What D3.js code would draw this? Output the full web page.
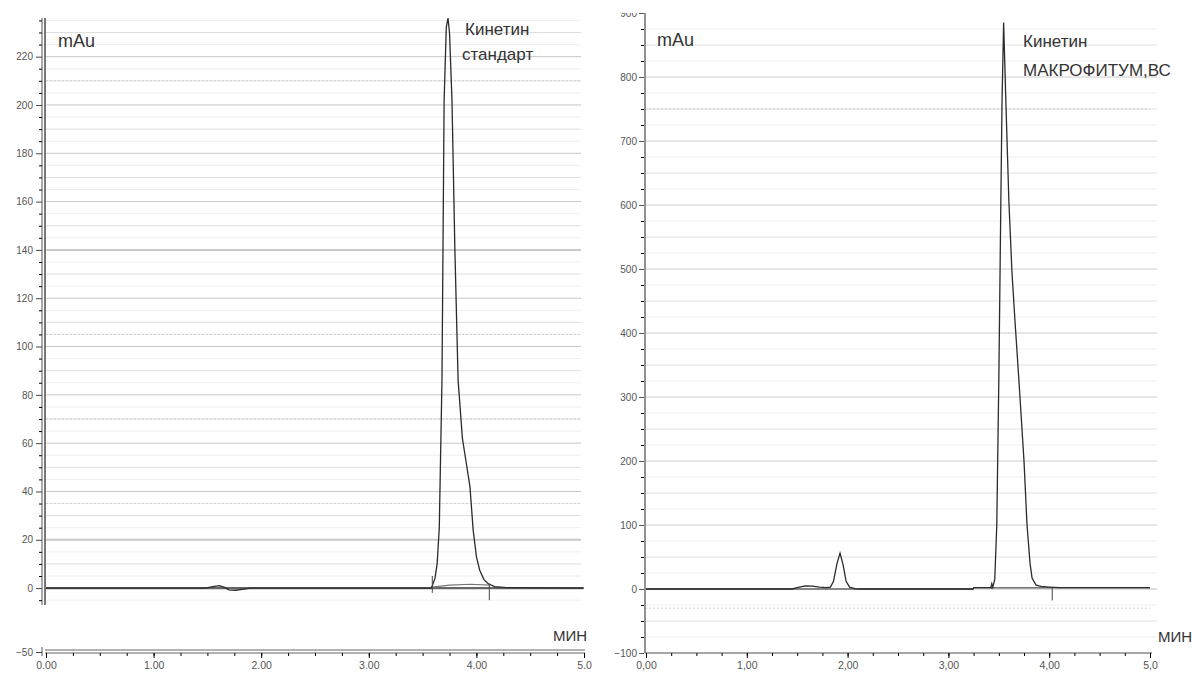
<!DOCTYPE html>
<html>
<head>
<meta charset="utf-8">
<script src="https://cdn.jsdelivr.net/npm/d3@7"></script>
<style>
body { margin: 0; background: #fff; }
svg { display: block; font-family: "Liberation Sans", Arial, sans-serif; }
</style>
</head>
<body>
<svg id="chart" width="1192" height="673"></svg>
<script>
// ---- data ----

// x axis tick labels (minutes)
var xTickValues = [0, 1, 2, 3, 4, 5];
var xLabelsStd = ["0.00", "1.00", "2.00", "3.00", "4.00", "5.0"];
var xLabelsVc = ["0,00", "1,00", "2,00", "3,00", "4,00", "5,0"];

// y axis tick values (mAu)
var yTicksStd = [-50, 0, 20, 40, 60, 80, 100, 120, 140, 160, 180, 200, 220];
var yTicksVc = [-100, 0, 100, 200, 300, 400, 500, 600, 700, 800, 900];

// standard trace: time (min) / signal (mAu)
var stdTime   = [0, 1.48, 1.55, 1.61, 1.66, 1.70, 1.76, 1.84, 1.90, 3.580, 3.590, 3.615, 3.635, 3.655, 3.680, 3.700, 3.720, 3.736, 3.750, 3.773, 3.800, 3.830, 3.870, 3.905, 3.940, 3.970, 4.000, 4.030, 4.070, 4.110, 4.170, 4.280, 5.0];
var stdSignal = [0, 0, 0.6, 1.0, 0.3, -0.7, -0.9, -0.4, 0, 0, 1, 4, 10, 25, 86, 202, 232, 236, 230, 202, 140, 86, 62, 52, 42, 24, 13, 7.5, 3.5, 1.8, 0.6, 0.2, 0];

// standard integration baseline and peak marks
var stdBaseTime = [3.59, 3.75, 3.95, 4.12];
var stdBaseValue = [0.4, 1.2, 1.6, 1.2];
var stdMarkTime = [3.59, 4.12];
var stdMarkFrom = [-2, 2];
var stdMarkTo = [5, -5];

// sample (МАКРОФИТУМ,ВС) trace
var vcTime   = [0, 1.45, 1.50, 1.58, 1.65, 1.72, 1.79, 1.83, 1.86, 1.895, 1.925, 1.955, 1.985, 2.02, 2.07, 2.12, 3.245, 3.25, 3.42, 3.43, 3.44, 3.46, 3.48, 3.50, 3.52, 3.532, 3.548, 3.57, 3.60, 3.63, 3.66, 3.70, 3.75, 3.78, 3.81, 3.83, 3.87, 3.92, 4.00, 4.10, 5.0];
var vcSignal = [0, 0, 2, 5, 4.5, 3, 2, 3, 12, 40, 56, 38, 12, 3, 0.5, 0, 0, 2, 2, 8, 3, 15, 100, 325, 600, 762, 885, 762, 606, 497, 420, 325, 200, 100, 40, 17, 6, 4, 3, 2, 2];

var vcBaseTime = [3.45, 4.03];
var vcBaseValue = [2, 2];
var vcMarkTime = [3.43, 4.03];
var vcMarkFrom = [0, 2];
var vcMarkTo = [10, -18];

// ---- scales ----
var svg = d3.select("#chart");

var xStd = d3.scaleLinear().domain([0, 5]).range([46, 584]);
// broken axis: -50 sits down at the time axis
var yStd = d3.scaleLinear().domain([-50, -7, 236]).range([652, 605, 18]);

var xVc = d3.scaleLinear().domain([0, 5]).range([646, 1150]);
var yVc = d3.scaleLinear().domain([-100, 900]).range([653, 13]);

svg.append("defs").append("clipPath").attr("id", "clipVc")
  .append("rect").attr("x", 0).attr("y", 13).attr("width", 1192).attr("height", 660);

function zip(a, b) {
  return a.map(function(d, i) { return [d, b[i]]; });
}

// ---- left panel: standard ----
var gL = svg.append("g");

// grid
d3.range(-5, 236, 5).forEach(function(v) {
  if (v == 0) return;
  var cls = v % 20 == 0 ? "#c9c9c9" : (v % 10 == 0 ? "#dedede" : "#eeeeee");
  gL.append("line")
    .attr("x1", 46).attr("x2", 581)
    .attr("y1", yStd(v)).attr("y2", yStd(v))
    .attr("stroke", cls)
    .attr("stroke-width", (v == 140 || v == 20) ? 2 : 1);
});
// scanned-in dotted lines
[210, 105, 70, 35].forEach(function(v) {
  gL.append("line")
    .attr("x1", 46).attr("x2", 581)
    .attr("y1", yStd(v)).attr("y2", yStd(v))
    .attr("stroke", "#cfcfcf").attr("stroke-dasharray", "2,2");
});

// zero line
gL.append("line")
  .attr("x1", 46).attr("x2", 583)
  .attr("y1", yStd(0)).attr("y2", yStd(0))
  .attr("stroke", "#666").attr("stroke-width", 2.2);

var lineStd = d3.line()
  .x(function(d) { return xStd(d[0]); })
  .y(function(d) { return yStd(d[1]); });

gL.append("path")
  .datum(zip(stdBaseTime, stdBaseValue))
  .attr("d", lineStd)
  .attr("fill", "none").attr("stroke", "#777").attr("stroke-width", 1.2);

gL.append("path")
  .datum(zip(stdTime, stdSignal))
  .attr("d", lineStd)
  .attr("fill", "none").attr("stroke", "#2b2b2b").attr("stroke-width", 1.3);

stdMarkTime.forEach(function(t, i) {
  gL.append("line")
    .attr("x1", xStd(t)).attr("x2", xStd(t))
    .attr("y1", yStd(stdMarkFrom[i])).attr("y2", yStd(stdMarkTo[i]))
    .attr("stroke", "#444").attr("stroke-width", 1);
});

// y axis (double line)
[42, 45].forEach(function(x, i) {
  gL.append("line")
    .attr("x1", x).attr("x2", x)
    .attr("y1", yStd(236)).attr("y2", yStd(-7))
    .attr("stroke", "#555").attr("stroke-width", i ? 1.6 : 1);
});
gL.append("line")
  .attr("x1", 42).attr("x2", 42)
  .attr("y1", yStd(-50) - 5).attr("y2", yStd(-50) + 4)
  .attr("stroke", "#555");

var minorStd = d3.range(-5, 236, 5).filter(function(v) { return v % 20 != 0; });
gL.append("g").attr("transform", "translate(42,0)")
  .call(d3.axisLeft(yStd).tickValues(minorStd).tickSize(3).tickFormat(""))
  .call(function(g) { g.select(".domain").remove(); });

gL.append("g").attr("transform", "translate(42,0)")
  .call(d3.axisLeft(yStd).tickValues(yTicksStd).tickSize(6).tickPadding(3))
  .call(function(g) {
    g.select(".domain").remove();
    g.selectAll("text").style("font-size", "10px").attr("fill", "#555");
    g.selectAll("line").attr("stroke", "#444");
  });

// x axis (double line)
[650, 653].forEach(function(y) {
  gL.append("line")
    .attr("x1", 45).attr("x2", 585)
    .attr("y1", y).attr("y2", y)
    .attr("stroke", "#666").attr("stroke-width", 1);
});
gL.append("g").attr("transform", "translate(0,653)")
  .call(d3.axisBottom(xStd).tickValues(d3.range(0, 5.01, 0.25)).tickSize(3).tickFormat(""))
  .call(function(g) { g.select(".domain").remove(); });
gL.append("g").attr("transform", "translate(0,653)")
  .call(d3.axisBottom(xStd).tickValues(xTickValues).tickSize(5).tickPadding(4)
    .tickFormat(function(d, i) { return xLabelsStd[i]; }))
  .call(function(g) {
    g.select(".domain").remove();
    g.selectAll("text").style("font-size", "10.5px").attr("fill", "#555");
  });

gL.append("text").attr("x", 58).attr("y", 47)
  .style("font-size", "18px").attr("fill", "#333").text("mAu");
gL.append("text").attr("x", 587).attr("y", 641).attr("text-anchor", "end")
  .style("font-size", "15px").attr("fill", "#333").text("МИН");
gL.append("text").attr("x", 465).attr("y", 35)
  .style("font-size", "17px").attr("fill", "#333").text("Кинетин");
gL.append("text").attr("x", 462).attr("y", 60)
  .style("font-size", "17px").attr("fill", "#333").text("стандарт");

// ---- right panel: МАКРОФИТУМ,ВС ----
var gR = svg.append("g").attr("clip-path", "url(#clipVc)");

d3.range(-75, 900, 25).forEach(function(v) {
  if (v == 0) return;
  var cls = v % 100 == 0 ? "#cccccc" : (v % 50 == 0 ? "#e0e0e0" : "#efefef");
  gR.append("line")
    .attr("x1", 645).attr("x2", 1157)
    .attr("y1", yVc(v)).attr("y2", yVc(v))
    .attr("stroke", cls).attr("stroke-width", 1);
});
[750, -30].forEach(function(v) {
  gR.append("line")
    .attr("x1", 645).attr("x2", 1150)
    .attr("y1", yVc(v)).attr("y2", yVc(v))
    .attr("stroke", "#cfcfcf").attr("stroke-dasharray", "2,2");
});

gR.append("line")
  .attr("x1", 645).attr("x2", 1157)
  .attr("y1", yVc(0)).attr("y2", yVc(0))
  .attr("stroke", "#bbb").attr("stroke-width", 1);

var lineVc = d3.line()
  .x(function(d) { return xVc(d[0]); })
  .y(function(d) { return yVc(d[1]); });

gR.append("path")
  .datum([[0, 0], [3.245, 0]])
  .attr("d", lineVc)
  .attr("fill", "none").attr("stroke", "#333").attr("stroke-width", 1.2);
gR.append("path")
  .datum([[3.25, 2], [5.0, 2]])
  .attr("d", lineVc)
  .attr("fill", "none").attr("stroke", "#333").attr("stroke-width", 1.2);

gR.append("path")
  .datum(zip(vcBaseTime, vcBaseValue))
  .attr("d", lineVc)
  .attr("fill", "none").attr("stroke", "#777").attr("stroke-width", 1.2);

gR.append("path")
  .datum(zip(vcTime, vcSignal))
  .attr("d", lineVc)
  .attr("fill", "none").attr("stroke", "#2b2b2b").attr("stroke-width", 1.3);

vcMarkTime.forEach(function(t, i) {
  gR.append("line")
    .attr("x1", xVc(t)).attr("x2", xVc(t))
    .attr("y1", yVc(vcMarkFrom[i])).attr("y2", yVc(vcMarkTo[i]))
    .attr("stroke", "#444").attr("stroke-width", 1);
});

gR.append("line")
  .attr("x1", 645).attr("x2", 645)
  .attr("y1", yVc(900)).attr("y2", yVc(-100))
  .attr("stroke", "#777").attr("stroke-width", 1.6);

var minorVc = d3.range(-75, 900, 25).filter(function(v) { return v % 100 != 0; });
gR.append("g").attr("transform", "translate(644,0)")
  .call(d3.axisLeft(yVc).tickValues(minorVc).tickSize(3).tickFormat(""))
  .call(function(g) { g.select(".domain").remove(); });
gR.append("g").attr("transform", "translate(644,0)")
  .call(d3.axisLeft(yVc).tickValues(yTicksVc).tickSize(5).tickPadding(2))
  .call(function(g) {
    g.select(".domain").remove();
    g.selectAll("text").style("font-size", "10px").attr("fill", "#555");
    g.selectAll("line").attr("stroke", "#555");
  });

gR.append("line")
  .attr("x1", 645).attr("x2", 1152)
  .attr("y1", 653).attr("y2", 653)
  .attr("stroke", "#888").attr("stroke-width", 1.6);
gR.append("g").attr("transform", "translate(0,653)")
  .call(d3.axisBottom(xVc).tickValues(d3.range(0, 5.01, 0.25)).tickSize(3).tickFormat(""))
  .call(function(g) { g.select(".domain").remove(); });
gR.append("g").attr("transform", "translate(0,653)")
  .call(d3.axisBottom(xVc).tickValues(xTickValues).tickSize(5).tickPadding(4)
    .tickFormat(function(d, i) { return xLabelsVc[i]; }))
  .call(function(g) {
    g.select(".domain").remove();
    g.selectAll("text").style("font-size", "10.5px").attr("fill", "#555");
  });

gR.append("text").attr("x", 657).attr("y", 46)
  .style("font-size", "18px").attr("fill", "#333").text("mAu");
gR.append("text").attr("x", 1158).attr("y", 642)
  .style("font-size", "15px").attr("fill", "#333").text("МИН");
gR.append("text").attr("x", 1023).attr("y", 47)
  .style("font-size", "17px").attr("fill", "#333").text("Кинетин");
gR.append("text").attr("x", 1023).attr("y", 76)
  .style("font-size", "17px").attr("fill", "#333").text("МАКРОФИТУМ,ВС");
</script>
</body>
</html>
